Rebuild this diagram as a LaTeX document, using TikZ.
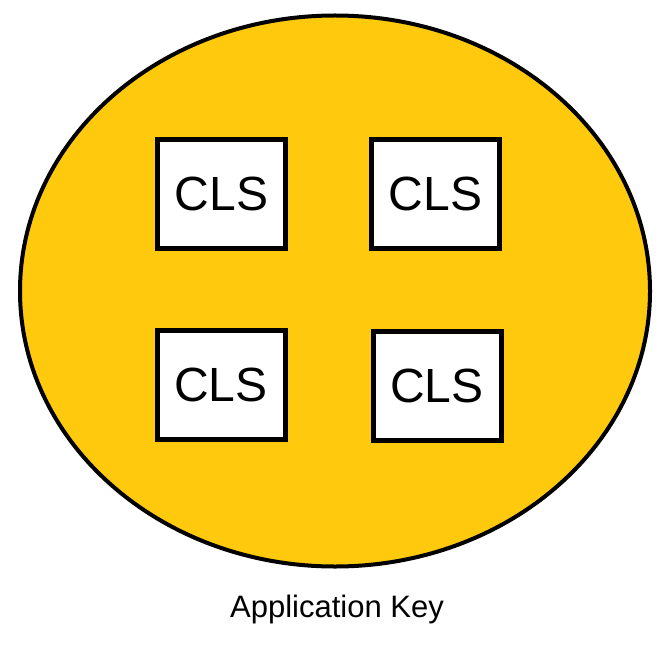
\documentclass[tikz,border=0pt]{standalone}
\usepackage{fontspec}
\setmainfont{Liberation Sans}
\usetikzlibrary{shapes.geometric}
\definecolor{gold}{HTML}{FFC90E}
\begin{document}
\begin{tikzpicture}[x=1pt,y=-1pt,
  clsbox/.style={draw=black,line width=5pt,fill=white,minimum width=128pt,minimum height=109pt,inner sep=0pt,font=\fontsize{48}{48}\selectfont}]
\useasboundingbox (0,0) rectangle (668,644);
\node[draw=black,line width=4pt,fill=gold,ellipse,minimum width=630pt,minimum height=551pt,inner sep=0pt] (key) at (335,291) {};
\node[clsbox] (c1) at (221.5,194) {CLS};
\node[clsbox] (c2) at (435.5,194) {CLS};
\node[clsbox] (c3) at (221,385) {CLS};
\node[clsbox] (c4) at (437,385.5) {CLS};
\node[font=\fontsize{31}{31}\selectfont] (lbl) at (337,609) {Application Key};
\end{tikzpicture}
\end{document}
